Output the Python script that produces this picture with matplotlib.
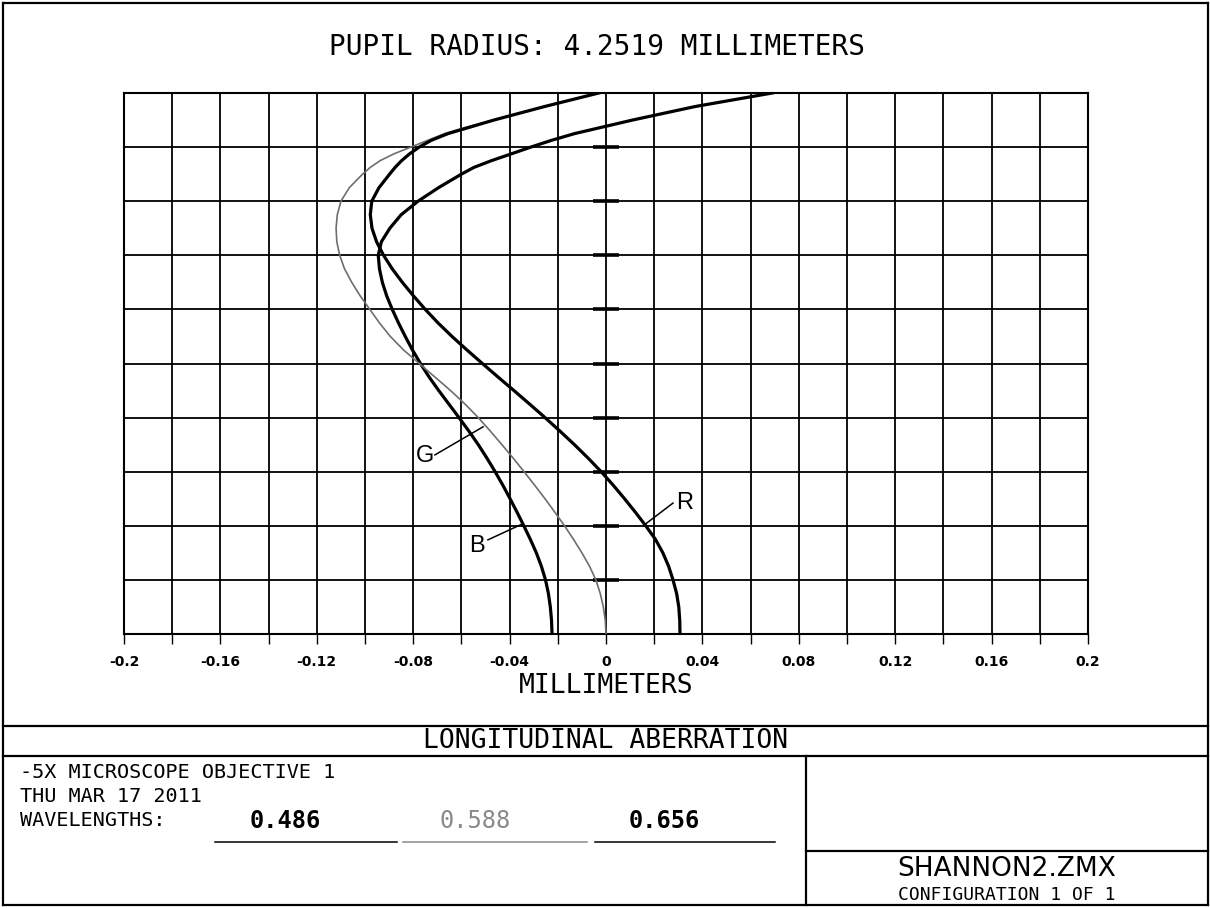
import matplotlib
matplotlib.use("Agg")
import matplotlib.pyplot as plt
from matplotlib.lines import Line2D

# ---------------- data ----------------
pupil = [0.0, 0.025, 0.05, 0.075, 0.1, 0.125, 0.15, 0.175, 0.2, 0.225, 0.25,
         0.275, 0.3, 0.325, 0.35, 0.375, 0.4, 0.425, 0.45, 0.475, 0.5,
         0.525, 0.55, 0.575, 0.6, 0.625, 0.65, 0.675, 0.7, 0.725, 0.75,
         0.775, 0.8, 0.825, 0.85, 0.8625, 0.875, 0.8875, 0.9, 0.9125, 0.925,
         0.9375, 0.95, 0.975, 1.0]
blue_0486 = [-0.0224, -0.0226, -0.0231, -0.0239, -0.0251, -0.0268, -0.0289, -0.0314,
             -0.0341, -0.0369, -0.0398, -0.0428, -0.0460, -0.0494, -0.0530, -0.0569,
             -0.0610, -0.0652, -0.0694, -0.0734, -0.0770, -0.0803, -0.0833, -0.0861,
             -0.0887, -0.0910, -0.0928, -0.0940, -0.0945, -0.0932, -0.0897, -0.0850,
             -0.0780, -0.0695, -0.0600, -0.0548, -0.0475, -0.0393, -0.0312, -0.0226,
             -0.0130, -0.0010, 0.0110, 0.0370, 0.0690]
green_0588 = [0.0, -0.0003, -0.0011, -0.0024, -0.0042, -0.0068, -0.0100, -0.0135,
              -0.0172, -0.0212, -0.0253, -0.0296, -0.0340, -0.0385, -0.0432, -0.0480,
              -0.0530, -0.0585, -0.0645, -0.0710, -0.0775, -0.0840, -0.0895, -0.0940,
              -0.0980, -0.1020, -0.1055, -0.1085, -0.1105, -0.1117, -0.1120, -0.1115,
              -0.1100, -0.1065, -0.1010, -0.0978, -0.0937, -0.0880, -0.0810, -0.0740,
              -0.0670, -0.0575, -0.0468, -0.0255, -0.0030]
red_0656 = [0.0307, 0.0306, 0.0302, 0.0293, 0.0278, 0.0260, 0.0236, 0.0205,
            0.0165, 0.0122, 0.0077, 0.0030, -0.0020, -0.0074, -0.0131, -0.0191,
            -0.0253, -0.0317, -0.0382, -0.0448, -0.0513, -0.0577, -0.0639, -0.0697,
            -0.0750, -0.0799, -0.0845, -0.0887, -0.0923, -0.0952, -0.0971, -0.0978,
            -0.0972, -0.0942, -0.0898, -0.0875, -0.0848, -0.0815, -0.0775, -0.0725,
            -0.0655, -0.0560, -0.0465, -0.0255, -0.0030]

x_ticks = [-0.2, -0.18, -0.16, -0.14, -0.12, -0.1, -0.08, -0.06, -0.04, -0.02, 0.0,
           0.02, 0.04, 0.06, 0.08, 0.1, 0.12, 0.14, 0.16, 0.18, 0.2]
x_tick_labels = ["-0.2", "", "-0.16", "", "-0.12", "", "-0.08", "", "-0.04", "", "0",
                 "", "0.04", "", "0.08", "", "0.12", "", "0.16", "", "0.2"]
y_ticks = [0.0, 0.1, 0.2, 0.3, 0.4, 0.5, 0.6, 0.7, 0.8, 0.9, 1.0]
wavelengths = ["0.486", "0.588", "0.656"]

# ---------------- figure ----------------
W, H = 1210, 908
fig = plt.figure(figsize=(12.1, 9.08), dpi=100)
fig.patch.set_facecolor("white")

def fx(x):
    return x / W

def fy(y):
    return 1 - y / H

MONO = "DejaVu Sans Mono"
GRAYC = "#6e6e6e"

ax = fig.add_axes([fx(124), fy(634), (1088 - 124) / W, (634 - 93) / H])
ax.set_xlim(-0.2, 0.2)
ax.set_ylim(0, 1)
ax.set_xticks(x_ticks)
ax.set_xticklabels(x_tick_labels, fontsize=10, fontweight="bold", family="DejaVu Sans")
ax.set_yticks(y_ticks)
ax.set_yticklabels([])
ax.tick_params(axis="x", direction="out", length=7, width=1.0, pad=8, colors="black")
ax.tick_params(axis="y", length=0)
ax.grid(True, color="black", linewidth=1.3)
ax.set_axisbelow(True)
for s in ax.spines.values():
    s.set_linewidth(1.5)
    s.set_color("black")

# center marks on the zero line
ax.hlines(y_ticks[1:-1], -0.0054, 0.0054, colors="black", linewidth=2.6, zorder=3)

# curves
ax.plot(blue_0486, pupil, color="black", linewidth=2.3, zorder=4)
ax.plot(green_0588, pupil, color=GRAYC, linewidth=1.2, zorder=4)
ax.plot(red_0656, pupil, color="black", linewidth=2.3, zorder=4)

# labels with leader lines
ax.plot([-0.071, -0.051], [0.331, 0.383], color="black", linewidth=1.1, zorder=5)
ax.text(-0.0752, 0.329, "G", fontsize=17, family="Liberation Sans", ha="center", va="center", zorder=5)
ax.plot([-0.049, -0.0349], [0.174, 0.203], color="black", linewidth=1.1, zorder=5)
ax.text(-0.0535, 0.163, "B", fontsize=17, family="Liberation Sans", ha="center", va="center", zorder=5)
ax.plot([0.0278, 0.0154], [0.242, 0.200], color="black", linewidth=1.1, zorder=5)
ax.text(0.0325, 0.243, "R", fontsize=17, family="Liberation Sans", ha="center", va="center", zorder=5)

ax.set_xlabel("MILLIMETERS", fontsize=19, family=MONO, labelpad=3)

# title
fig.text(fx(597), fy(47), "PUPIL RADIUS: 4.2519 MILLIMETERS", fontsize=20, family=MONO,
         ha="center", va="center")

# ---------------- frame / title block ----------------
def hline(x0, x1, y, lw=1.6, color="black"):
    fig.add_artist(Line2D([fx(x0), fx(x1)], [fy(y), fy(y)], color=color, linewidth=lw,
                          transform=fig.transFigure))

def vline(x, y0, y1, lw=1.6, color="black"):
    fig.add_artist(Line2D([fx(x), fx(x)], [fy(y0), fy(y1)], color=color, linewidth=lw,
                          transform=fig.transFigure))

hline(3, 1208, 3)
hline(3, 1208, 905)
vline(3, 3, 905)
vline(1208, 3, 905)
hline(3, 1208, 726)
hline(3, 1208, 756)
vline(806, 756, 905)
hline(806, 1208, 851)

fig.text(fx(606), fy(741), "LONGITUDINAL ABERRATION", fontsize=19, family=MONO,
         ha="center", va="center")

BS = 14.5
fig.text(fx(20), fy(773), "-5X MICROSCOPE OBJECTIVE 1", fontsize=BS, family=MONO,
         ha="left", va="center")
fig.text(fx(20), fy(797), "THU MAR 17 2011", fontsize=BS, family=MONO,
         ha="left", va="center")
fig.text(fx(20), fy(821), "WAVELENGTHS:", fontsize=BS, family=MONO,
         ha="left", va="center")
fig.text(fx(285), fy(821), wavelengths[0], fontsize=17, family=MONO, fontweight="bold",
         ha="center", va="center")
fig.text(fx(475), fy(821), wavelengths[1], fontsize=17, family=MONO, color="#8a8a8a",
         ha="center", va="center")
fig.text(fx(664), fy(821), wavelengths[2], fontsize=17, family=MONO, fontweight="bold",
         ha="center", va="center")
hline(215, 397, 842, lw=1.1)
hline(403, 587, 842, lw=1.1, color="#8a8a8a")
hline(595, 775, 842, lw=1.1)

fig.text(fx(1007), fy(876), "SHANNON2.ZMX", fontsize=19, family="DejaVu Sans",
         ha="center", va="baseline")
fig.text(fx(1007), fy(900), "CONFIGURATION 1 OF 1", fontsize=13, family=MONO,
         ha="center", va="baseline")

fig.savefig("out.png", dpi=100, facecolor="white")
